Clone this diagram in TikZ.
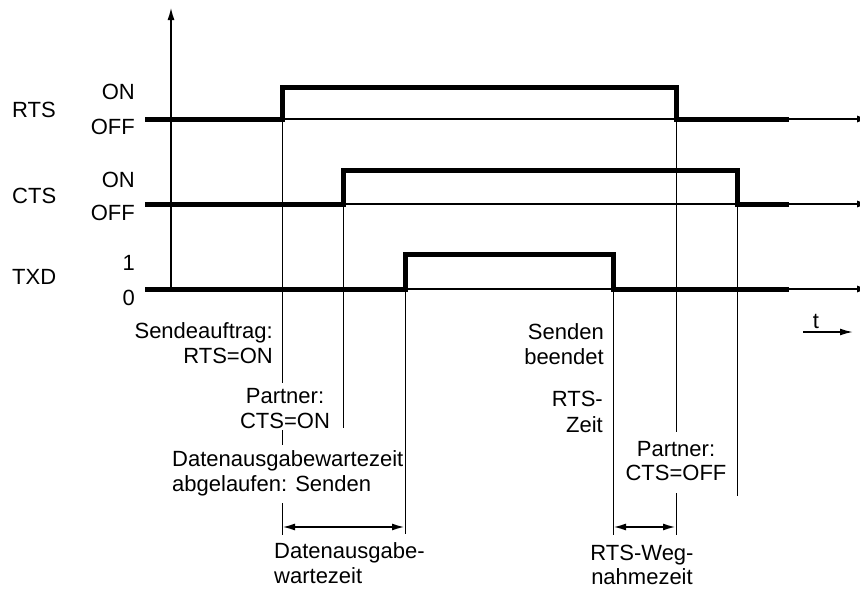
\documentclass[tikz,border=0pt]{standalone}
\usepackage{fontspec}
\setmainfont{Liberation Sans}
\usetikzlibrary{arrows.meta}
\begin{document}
\begin{tikzpicture}[x=1pt,y=-1pt,
  lbl/.style={font=\fontsize{22}{25}\selectfont, inner sep=0pt},
  sig/.style={line width=5pt, line cap=butt, line join=miter},
  hair/.style={line width=1pt},
  base/.style={line width=1.4pt},
  tip/.style={-{Latex[length=13pt,width=7pt]}},
  dtip/.style={{Latex[length=13pt,width=7pt]}-{Latex[length=13pt,width=7pt]}}]
\useasboundingbox (0,0) rectangle (860,589);
% event coordinates
\coordinate (rOn)  at (282,119);
\coordinate (cOn)  at (343,204);
\coordinate (tOn)  at (405,289);
\coordinate (tOff) at (613,289);
\coordinate (rOff) at (676,119);
\coordinate (cOff) at (737,204);
\coordinate (rEnd) at (870,119);
\coordinate (cEnd) at (870,204);
\coordinate (tEnd) at (870,289);
% axis
\coordinate (ax0) at (171,289);
\coordinate (ax1) at (171,7);
\draw[line width=2pt, tip] (ax0) -- (ax1);
% thin baselines
\draw[base, tip] (rOn) -- (rEnd);
\draw[base, tip] (cOn) -- (cEnd);
\draw[base, tip] (tOn) -- (tEnd);
% signals
\draw[sig] (145,119) -- (282,119) -- (282,87) -- (676,87) -- (676,119) -- (789,119);
\draw[sig] (145,204) -- (343,204) -- (343,170) -- (737,170) -- (737,204) -- (789,204);
\draw[sig] (145,289) -- (405,289) -- (405,254) -- (613,254) -- (613,289) -- (789,289);
% vertical event lines
\draw[hair] (rOn) -- (282,383) (282,430) -- (282,445) (282,503) -- (282,535);
\draw[hair] (cOn) -- (343,428);
\draw[hair] (tOn) -- (405,534);
\draw[hair] (tOff) -- (613,535);
\draw[hair] (rOff) -- (676,432) (676,493) -- (676,535);
\draw[hair] (cOff) -- (737,496);
% interval arrows
\coordinate (d1) at (282,527);
\coordinate (d2) at (405,527);
\coordinate (w1) at (613,527);
\coordinate (w2) at (676,527);
\draw[line width=2pt, dtip] (d1) -- (d2);
\draw[line width=2pt, dtip] (w1) -- (w2);
% left labels
\node[lbl, anchor=base west] (lRTS) at (12,117) {RTS};
\node[lbl, anchor=base east] (lRon) at (135,99) {ON};
\node[lbl, anchor=base east] (lRoff) at (135,134) {OFF};
\node[lbl, anchor=base west] (lCTS) at (12,203) {CTS};
\node[lbl, anchor=base east] (lCon) at (135,187) {ON};
\node[lbl, anchor=base east] (lCoff) at (135,220) {OFF};
\node[lbl, anchor=base west] (lTXD) at (12,284) {TXD};
\node[lbl, anchor=base east] (lT1) at (135,270) {1};
\node[lbl, anchor=base east] (lT0) at (135,305) {0};
% lower labels
\node[lbl, anchor=base east] (s1) at (273,338) {Sendeauftrag:};
\node[lbl, anchor=base east] (s2) at (273,363) {RTS=ON};
\node[lbl, anchor=base] (p1) at (285,403) {Partner:};
\node[lbl, anchor=base] (p2) at (285,428) {CTS=ON};
\node[lbl, anchor=base west] (a1) at (172,466) {Datenausgabewartezeit};
\node[lbl, anchor=base west] (a2) at (172,491) {abgelaufen: Senden};
\node[lbl, anchor=base west] (dw1) at (274,558) {Datenausgabe-};
\node[lbl, anchor=base west] (dw2) at (274,583) {wartezeit};
\node[lbl, anchor=base east] (sb1) at (604,339) {Senden};
\node[lbl, anchor=base east] (sb2) at (604,364) {beendet};
\node[lbl, anchor=base east] (rz1) at (603,406) {RTS-};
\node[lbl, anchor=base east] (rz2) at (603,432) {Zeit};
\node[lbl, anchor=base] (po1) at (676,456) {Partner:};
\node[lbl, anchor=base] (po2) at (676,480) {CTS=OFF};
\node[lbl, anchor=base] (rw1) at (642,560) {RTS-Weg-};
\node[lbl, anchor=base] (rw2) at (642,584) {nahmezeit};
% time arrow
\node[lbl, anchor=base] (tl) at (816,328) {t};
\coordinate (t0) at (803,332);
\coordinate (t1) at (853,332);
\draw[line width=1.6pt, tip] (t0) -- (t1);
\end{tikzpicture}
\end{document}
